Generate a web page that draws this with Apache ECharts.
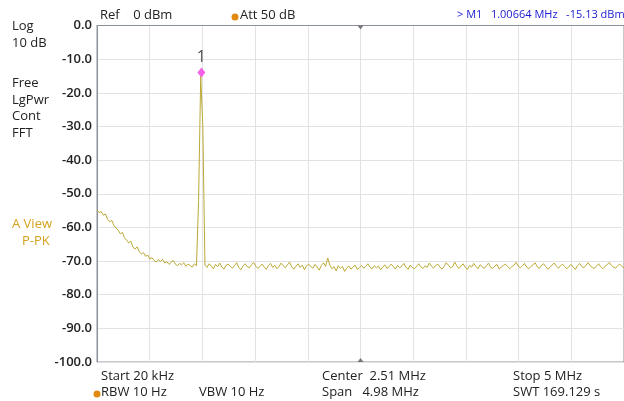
<!DOCTYPE html>
<html><head><meta charset="utf-8">
<script src="https://cdn.jsdelivr.net/npm/echarts@6/dist/echarts.min.js"></script>
<style>html,body{margin:0;padding:0;background:#fff;}#c{width:624px;height:401px;}</style>
</head><body><div id="c"></div>
<script>
// Sweep definition (MHz)
const startMHz = 0.02;
const stopMHz = 5.0;
const pointStepMHz = 0.02;
// Y axis
const yTicks = [0, -10, -20, -30, -40, -50, -60, -70, -80, -90, -100];
// Trace levels (dBm), one per sweep point
const traceLevels = [
 -54.8,-55.6,-55.3,-56.4,-56.0,-57.6,-58.3,-57.9,-59.4,-60.2,
 -60.8,-61.9,-61.5,-63.1,-63.8,-64.6,-64.1,-65.9,-66.4,-65.8,
 -67.3,-67.9,-67.5,-68.6,-68.2,-69.4,-69.0,-69.9,-70.3,-69.6,
 -70.1,-69.5,-70.6,-70.2,-71.0,-70.4,-69.8,-70.9,-71.4,-70.7,
 -71.1,-70.5,-71.6,-70.9,-71.3,-71.8,-70.8,-71.4,-52.0,-15.13,
 -30.0,-71.2,
 -71.9,-70.8,-71.5,-72.3,-71.0,-71.7,-70.6,-71.8,-72.4,-71.2,
 -70.9,-71.6,-72.1,-71.3,-70.5,-71.9,-72.6,-71.4,-70.8,-71.7,
 -72.0,-71.1,-70.4,-71.5,-72.2,-71.6,-70.9,-71.8,-72.5,-71.3,
 -70.7,-71.9,-71.2,-72.3,-71.6,-70.6,-71.4,-72.0,-71.1,-70.3,
 -71.7,-72.4,-71.5,-70.8,-71.9,-71.2,-72.6,-71.4,-70.9,-71.6,
 -72.1,-71.0,-71.8,-72.7,-71.3,-70.5,-71.6,-69.1,-71.2,-72.3,
 -71.7,-72.9,-71.4,-72.2,-71.6,-73.1,-72.0,-71.5,-72.4,-71.8,
 -71.2,-72.5,-71.9,-71.3,-72.1,-71.6,-70.8,-71.9,-72.3,-71.4,
 -72.0,-71.5,-72.6,-71.8,-71.1,-72.2,-71.7,-70.9,-71.6,-72.4,
 -71.3,-72.0,-71.5,-70.7,-71.8,-72.5,-71.2,-71.9,-72.3,-71.6,
 -70.8,-71.7,-72.2,-71.4,-71.9,-70.6,-71.5,-72.1,-71.3,-70.9,
 -71.8,-72.4,-71.6,-70.5,-71.2,-72.0,-71.7,-70.3,-71.4,-72.2,
 -71.5,-70.8,-71.9,-72.5,-71.3,-71.8,-70.7,-71.6,-72.3,-71.1,
 -71.7,-72.2,-71.4,-70.6,-71.9,-72.1,-71.5,-71.0,-72.4,-71.8,
 -71.3,-70.9,-71.6,-72.3,-71.7,-71.2,-70.4,-71.5,-72.0,-71.4,
 -70.7,-71.8,-72.3,-71.6,-71.1,-70.5,-71.7,-72.2,-71.3,-70.8,
 -71.6,-72.4,-71.9,-71.2,-70.6,-71.5,-72.1,-71.4,-70.9,-71.7,
 -72.3,-71.6,-71.0,-71.8,-72.5,-71.4,-70.7,-71.6,-72.0,-71.3,
 -70.5,-71.4,-71.9,-72.2,-71.5,-70.8,-71.7,-72.3,-71.6,-71.1,
 -70.4,-71.3,-71.8,-72.1,-71.4,-70.9,-71.6,-72.0
];
// Marker M1
const markerFreqMHz = 1.00664;
const markerLevel = -15.13;
const markerLabel = "1";
const centerMHz = 2.51;

const span = stopMHz - startMHz;
const traceData = traceLevels.map((v, i) => [i * pointStepMHz, v]);

const font = "'Open Sans', 'Noto Sans', sans-serif";
const txt = (x, y, s, opt) => Object.assign({type:'text', left:x, top:y, style:Object.assign({text:s, fill:'#222', font:'500 13px ' + font}, opt||{})});

const chart = echarts.init(document.getElementById('c'), null, {renderer:'canvas'});
chart.setOption({
  animation:false,
  backgroundColor:'#fff',
  grid:{left:97, top:25.5, width:530, height:336.5, show:true, borderColor:'#8b929c', borderWidth:1, backgroundColor:'transparent'},
  xAxis:{type:'value', min:0, max:span, interval:span/10,
    axisLine:{show:true, lineStyle:{color:'#8b929c'}}, axisTick:{show:false}, axisLabel:{show:false},
    splitLine:{show:true, lineStyle:{color:'#e2e2e2', width:1}}},
  yAxis:{type:'value', min:-100, max:0, interval:10,
    axisLine:{show:true, lineStyle:{color:'#8b929c'}}, axisTick:{show:false},
    axisLabel:{margin:5, color:'#222', fontSize:13, fontWeight:600, fontFamily:font,
      formatter:v => yTicks.includes(v) ? v.toFixed(1) : ''},
    splitLine:{show:true, lineStyle:{color:'#e2e2e2', width:1}}},
  series:[
    {type:'line', data:traceData, symbol:'none', smooth:false,
      lineStyle:{color:'#bba936', width:1}, z:3,
      markPoint:{symbol:'triangle', symbolSize:[6,4], silent:true, label:{show:false},
        itemStyle:{color:'#777'},
        data:[{coord:[centerMHz-startMHz, 0], symbolRotate:180, symbolOffset:[0,2]},
              {coord:[centerMHz-startMHz, -100], symbolOffset:[0,-2]}]}},
    {type:'scatter', data:[[markerFreqMHz-startMHz, markerLevel]], symbol:'diamond', symbolSize:[8,10],
      symbolOffset:[0,-4],
      itemStyle:{color:'#f03ce0'}, z:5,
      label:{show:true, position:'top', distance:2, formatter:markerLabel, color:'#222', fontSize:16, fontWeight:500, fontFamily:font}}
  ],
  graphic:[
    txt(12, 20, 'Log'), txt(12, 37, '10 dB'),
    txt(12, 77, 'Free'), txt(12, 94, 'LgPwr'), txt(12, 110, 'Cont'), txt(12, 127, 'FFT'),
    txt(12, 218, 'A View', {fill:'#d4a21d'}), txt(22, 235, 'P-PK', {fill:'#d4a21d'}),
    txt(100, 9, 'Ref    0 dBm'),
    {type:'circle', shape:{cx:235, cy:17, r:3.5}, style:{fill:'#e08a10'}},
    txt(240, 9, 'Att 50 dB'),
    txt(457, 9, '> M1   1.00664 MHz   -15.13 dBm', {fill:'#1a1ad0', font:'500 11px ' + font}),
    txt(101, 370, 'Start 20 kHz'),
    {type:'circle', shape:{cx:97, cy:394, r:3.5}, style:{fill:'#e08a10'}},
    txt(101, 386, 'RBW 10 Hz'), txt(199, 386, 'VBW 10 Hz'),
    txt(322, 370, 'Center  2.51 MHz'), txt(322, 386, 'Span   4.98 MHz'),
    txt(513, 370, 'Stop 5 MHz'), txt(513, 386, 'SWT 169.129 s')
  ]
});
</script></body></html>
